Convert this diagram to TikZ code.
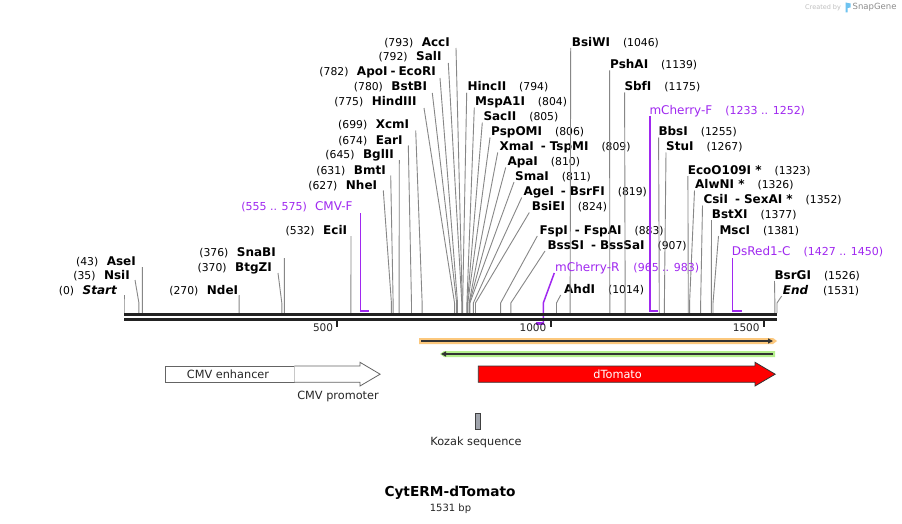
\documentclass[tikz,border=0pt]{standalone}
\usepackage{fontspec}
\setmainfont{DejaVu Sans}
\usetikzlibrary{arrows.meta}
\definecolor{sitegray}{RGB}{135,135,135}
\definecolor{prim}{RGB}{160,40,240}
\definecolor{seqblack}{RGB}{34,34,34}
\definecolor{orangeband}{RGB}{252,200,125}
\definecolor{greenband}{RGB}{180,240,140}
\definecolor{kozakfill}{RGB}{160,164,172}
\definecolor{logoblue}{RGB}{110,195,240}
\definecolor{featgray}{RGB}{100,100,100}
\newcommand{\sgname}[1]{{\fontsize{12}{14}\selectfont\bfseries #1}}
\newcommand{\sgnum}[1]{{\fontsize{10.8}{12}\selectfont #1}}
\newcommand{\sgpn}[1]{{\fontsize{12}{14}\selectfont #1}}
\newcommand{\sgpb}[1]{{\fontsize{11}{13}\selectfont #1}}
\newcommand{\sgdash}{\hspace{3pt}{\fontsize{12}{14}\selectfont\bfseries -}\hspace{3pt}}
\newcommand{\sgrdash}{\hspace{7pt}{\fontsize{12}{14}\selectfont\bfseries -}\hspace{4pt}}
% left label: name,pos,rightend,centery,xt,yt,text
\newcommand{\sgL}[7]{%
  \coordinate (s#1) at ({124+#2*0.42652},313);
  \coordinate (t#1) at (#5,#6);
  \node[lab,anchor=base east] (l#1) at (#3,{#4+4}) {#7};
  \draw[site] (s#1) -- ++(0,-10) -- (t#1);
}
% right label: name,pos,leftend,centery,xt,yt,text
\newcommand{\sgR}[7]{%
  \coordinate (s#1) at ({124+#2*0.42652},313);
  \coordinate (t#1) at (#5,#6);
  \node[lab,anchor=base west] (l#1) at (#3,{#4+4}) {#7};
  \draw[site] (s#1) -- ++(0,-10) -- (t#1);
}
\tikzset{
  lab/.style={inner sep=0pt, text=black},
  site/.style={draw=sitegray, line width=0.9pt},
  primline/.style={draw=prim, line width=1.5pt},
  primbar/.style={draw=prim, line width=2.5pt},
  primlab/.style={inner sep=0pt, text=prim},
  seq/.style={draw=seqblack, line width=2.8pt},
  tick/.style={draw=seqblack, line width=2pt},
  ticklab/.style={inner sep=0pt, font=\fontsize{10.5}{12}\selectfont, text=black!85},
  feattext/.style={inner sep=0pt, font=\fontsize{11.3}{13}\selectfont, text=black!85},
}
\begin{document}
\begin{tikzpicture}[x=1pt,y=-1pt]
\useasboundingbox (0,0) rectangle (902,524);
\fill[white] (0,0) rectangle (902,524);

% ---- left-side labels
\sgL{Start}{0}{117}{290}{124}{295}{\sgnum{(0)}\hspace{8.5pt}{\fontsize{12}{14}\selectfont\bfseries\itshape Start}}
\sgL{NsiI}{35}{130}{275}{135}{280}{\sgnum{(35)}\hspace{8.5pt}\sgname{NsiI}}
\sgL{AseI}{43}{136}{261}{142.3}{267}{\sgnum{(43)}\hspace{8.5pt}\sgname{AseI}}
\sgL{NdeI}{270}{238.3}{290}{239.2}{295}{\sgnum{(270)}\hspace{8.5pt}\sgname{NdeI}}
\sgL{BtgZI}{370}{272}{267}{278}{273}{\sgnum{(370)}\hspace{8.5pt}\sgname{BtgZI}}
\sgL{SnaBI}{376}{276}{252}{284.4}{258}{\sgnum{(376)}\hspace{8.5pt}\sgname{SnaBI}}
\sgL{EciI}{532}{347.3}{230}{351}{236}{\sgnum{(532)}\hspace{8.5pt}\sgname{EciI}}
\sgL{NheI}{627}{377.3}{185}{383.3}{190.5}{\sgnum{(627)}\hspace{8.5pt}\sgname{NheI}}
\sgL{BmtI}{631}{386}{170}{390.7}{175.5}{\sgnum{(631)}\hspace{8.5pt}\sgname{BmtI}}
\sgL{BglII}{645}{394}{154.3}{399.3}{160}{\sgnum{(645)}\hspace{8.5pt}\sgname{BglII}}
\sgL{EarI}{674}{402.7}{140}{408.3}{145.5}{\sgnum{(674)}\hspace{8.5pt}\sgname{EarI}}
\sgL{XcmI}{699}{409.3}{125}{415.7}{130.5}{\sgnum{(699)}\hspace{8.5pt}\sgname{XcmI}}
\sgL{HindIII}{775}{416.7}{101.7}{424}{108}{\sgnum{(775)}\hspace{8.5pt}\sgname{HindIII}}
\sgL{BstBI}{780}{427.3}{86.7}{432.3}{93}{\sgnum{(780)}\hspace{8.5pt}\sgname{BstBI}}
\sgL{ApoI}{782}{436}{71.7}{440}{78}{\sgnum{(782)}\hspace{8.5pt}\sgname{ApoI}\sgdash\sgname{EcoRI}}
\sgL{SalI}{792}{441.7}{56.7}{448.3}{63}{\sgnum{(792)}\hspace{8.5pt}\sgname{SalI}}
\sgL{AccI}{793}{450}{42.3}{456}{48}{\sgnum{(793)}\hspace{8.5pt}\sgname{AccI}}

% ---- right-side labels
\sgR{HincII}{794}{467.3}{86.7}{466.7}{92.7}{\sgname{HincII}\hspace{13pt}\sgnum{(794)}}
\sgR{MspA1I}{804}{475}{101.7}{474.3}{107.7}{\sgname{MspA1I}\hspace{13pt}\sgnum{(804)}}
\sgR{SacII}{805}{483.3}{116.7}{482.3}{122.7}{\sgname{SacII}\hspace{13pt}\sgnum{(805)}}
\sgR{PspOMI}{806}{491}{131.7}{490}{137.5}{\sgname{PspOMI}\hspace{13pt}\sgnum{(806)}}
\sgR{XmaI}{809}{499.3}{146.7}{497.7}{152.5}{\sgname{XmaI}\sgrdash\sgname{TspMI}\hspace{13pt}\sgnum{(809)}}
\sgR{ApaI}{810}{507.3}{161.7}{505.7}{167.5}{\sgname{ApaI}\hspace{13pt}\sgnum{(810)}}
\sgR{SmaI}{811}{515}{176}{514}{182}{\sgname{SmaI}\hspace{13pt}\sgnum{(811)}}
\sgR{AgeI}{819}{523.3}{191.7}{521.7}{197.5}{\sgname{AgeI}\sgrdash\sgname{BsrFI}\hspace{13pt}\sgnum{(819)}}
\sgR{BsiEI}{824}{531.7}{206.7}{529.3}{212.5}{\sgname{BsiEI}\hspace{13pt}\sgnum{(824)}}
\sgR{FspI}{883}{539.3}{230}{537.3}{236}{\sgname{FspI}\sgrdash\sgname{FspAI}\hspace{13pt}\sgnum{(883)}}
\sgR{BssSI}{907}{547.3}{245}{545}{251}{\sgname{BssSI}\sgrdash\sgname{BssSaI}\hspace{13pt}\sgnum{(907)}}
\sgR{AhdI}{1014}{564}{289.3}{560.7}{295}{\sgname{AhdI}\hspace{13pt}\sgnum{(1014)}}
\sgR{BsiWI}{1046}{571.7}{42.3}{570.7}{48}{\sgname{BsiWI}\hspace{13pt}\sgnum{(1046)}}
\sgR{PshAI}{1139}{610}{65}{609.6}{70.5}{\sgname{PshAI}\hspace{13pt}\sgnum{(1139)}}
\sgR{SbfI}{1175}{624.3}{86.7}{624.6}{92.5}{\sgname{SbfI}\hspace{13pt}\sgnum{(1175)}}
\sgR{BbsI}{1255}{658.3}{131.7}{658.6}{137.5}{\sgname{BbsI}\hspace{13pt}\sgnum{(1255)}}
\sgR{StuI}{1267}{666}{146.7}{666}{152.5}{\sgname{StuI}\hspace{13pt}\sgnum{(1267)}}
\sgR{EcoO109I}{1323}{687.7}{170}{687.9}{176}{\sgname{EcoO109I *}\hspace{13pt}\sgnum{(1323)}}
\sgR{AlwNI}{1326}{695}{184.3}{694.5}{190.5}{\sgname{AlwNI *}\hspace{13pt}\sgnum{(1326)}}
\sgR{CsiI}{1352}{703.3}{199.3}{702.5}{205.5}{\sgname{CsiI}\sgrdash\sgname{SexAI *}\hspace{13pt}\sgnum{(1352)}}
\sgR{BstXI}{1377}{711.7}{214}{711.5}{220}{\sgname{BstXI}\hspace{13pt}\sgnum{(1377)}}
\sgR{MscI}{1381}{719.3}{230}{718.5}{236}{\sgname{MscI}\hspace{13pt}\sgnum{(1381)}}
\sgR{BsrGI}{1526}{774.3}{275}{774.5}{281}{\sgname{BsrGI}\hspace{13pt}\sgnum{(1526)}}
\sgR{End}{1531}{782.7}{290}{781.7}{296}{{\fontsize{12}{14}\selectfont\bfseries\itshape End}\hspace{15pt}\sgnum{(1531)}}

% ---- primers
% CMV-F
\node[primlab,anchor=base east] (lCMVF) at (352.7,210.9) {\sgpb{(555 .. 575)}\hspace{8pt}\sgpn{CMV-F}};
\coordinate (tCMVF) at (360.7,213.3);
\coordinate (pCMVF) at (360.7,311);
\coordinate (eCMVF) at (369.2,311);
\draw[primline] (tCMVF) -- (pCMVF);
\draw[primbar] ([xshift=-0.75pt]pCMVF) -- (eCMVF);
% mCherry-F
\node[primlab,anchor=base west] (lmChF) at (649.3,114.2) {\sgpn{mCherry-F}\hspace{13pt}\sgpb{(1233 .. 1252)}};
\coordinate (tmChF) at (649.9,116);
\coordinate (pmChF) at (649.9,311);
\coordinate (emChF) at (658.4,311);
\draw[primline] (tmChF) -- (pmChF);
\draw[primbar] ([xshift=-0.75pt]pmChF) -- (emChF);
% DsRed1-C
\node[primlab,anchor=base west] (lDsR) at (731.7,255.9) {\sgpn{DsRed1-C}\hspace{13pt}\sgpb{(1427 .. 1450)}};
\coordinate (tDsR) at (732.6,258.3);
\coordinate (pDsR) at (732.6,311);
\coordinate (eDsR) at (742.4,311);
\draw[primline] (tDsR) -- (pDsR);
\draw[primbar] ([xshift=-0.75pt]pDsR) -- (eDsR);
% mCherry-R (reverse)
\node[primlab,anchor=base west] (lmChR) at (555,271.5) {\sgpn{mCherry-R}\hspace{14pt}\sgpb{(965 .. 983)}};
\coordinate (tmChR) at (554.3,273);
\coordinate (kmChR) at (543.3,303);
\coordinate (pmChR) at (543.3,323.5);
\coordinate (emChR) at (535.6,323.5);
\draw[primline] (tmChR) -- (kmChR) -- (pmChR);
\draw[primbar] ([xshift=0.75pt]pmChR) -- (emChR);

% ---- sequence line
\draw[seq] (124,314.7) -- (777.3,314.7);
\draw[seq] (124,319.3) -- (777.3,319.3);

% ---- ticks
\foreach \t/\xx in {500/337.3,1000/550.5,1500/763.8}{
  \draw[tick] (\xx,320.5) -- (\xx,327);
  \node[ticklab,anchor=base east] (tk\t) at (\xx-4,331.5) {\t};
}

% ---- primer-pair bands
\fill[orangeband] (419,338) -- (773,338) -- (777,341) -- (773,344) -- (419,344) -- cycle;
\draw[draw=black!80, line width=1.6pt, -{Triangle[length=5pt,width=5pt]}] (421,341) -- (773,341);
\fill[greenband] (444,351) -- (775,351) -- (775,357) -- (444,357) -- (440,354) -- cycle;
\draw[draw=black!80, line width=1.6pt, -{Triangle[length=5pt,width=5pt]}] (773,354) -- (441,354);

% ---- features
\draw[draw=featgray, fill=white, line width=0.8pt] (164.9,366) rectangle (294.4,382.3);
\node[feattext] (enh) at (228,374.2) {CMV enhancer};
\draw[draw=featgray, fill=white, line width=0.8pt] (294.4,366) -- (360,366) -- (360,362.3) -- (380.1,374.2) -- (360,386) -- (360,382.3) -- (294.4,382.3);
\node[feattext] (prom) at (338,396) {CMV promoter};
\draw[draw=black!80, fill=red, line width=0.8pt] (478.3,366) -- (755,366) -- (755,362.3) -- (775.2,374.2) -- (755,386) -- (755,382.3) -- (478.3,382.3) -- cycle;
\node[feattext, text=white] (dtom) at (617.6,374.2) {dTomato};
\draw[draw=black!75, fill=kozakfill, line width=0.8pt] (475.2,413) rectangle (480.5,429);
\node[feattext] (koz) at (476,442.7) {Kozak sequence};

% ---- title
\node[inner sep=0pt, font=\fontsize{13.7}{15}\selectfont\bfseries] (title) at (450,493) {CytERM-dTomato};
\node[inner sep=0pt, font=\fontsize{10}{12}\selectfont, text=black!85] (bp) at (450.5,508.5) {1531 bp};

% ---- logo
\node[inner sep=0pt, anchor=west, font=\fontsize{6.5}{7}\selectfont, text=black!25] (cby) at (805,7.5) {Created by};
\fill[logoblue] (845.5,2.5) -- (850.5,3.5) -- (850.5,7.5) -- (847.5,8) -- (847.5,12.5) -- (845.5,12.5) -- cycle;
\node[inner sep=0pt, anchor=west, font=\fontsize{8.5}{9}\selectfont, text=black!45] (sg) at (852.5,7.5) {SnapGene};
\end{tikzpicture}
\end{document}
